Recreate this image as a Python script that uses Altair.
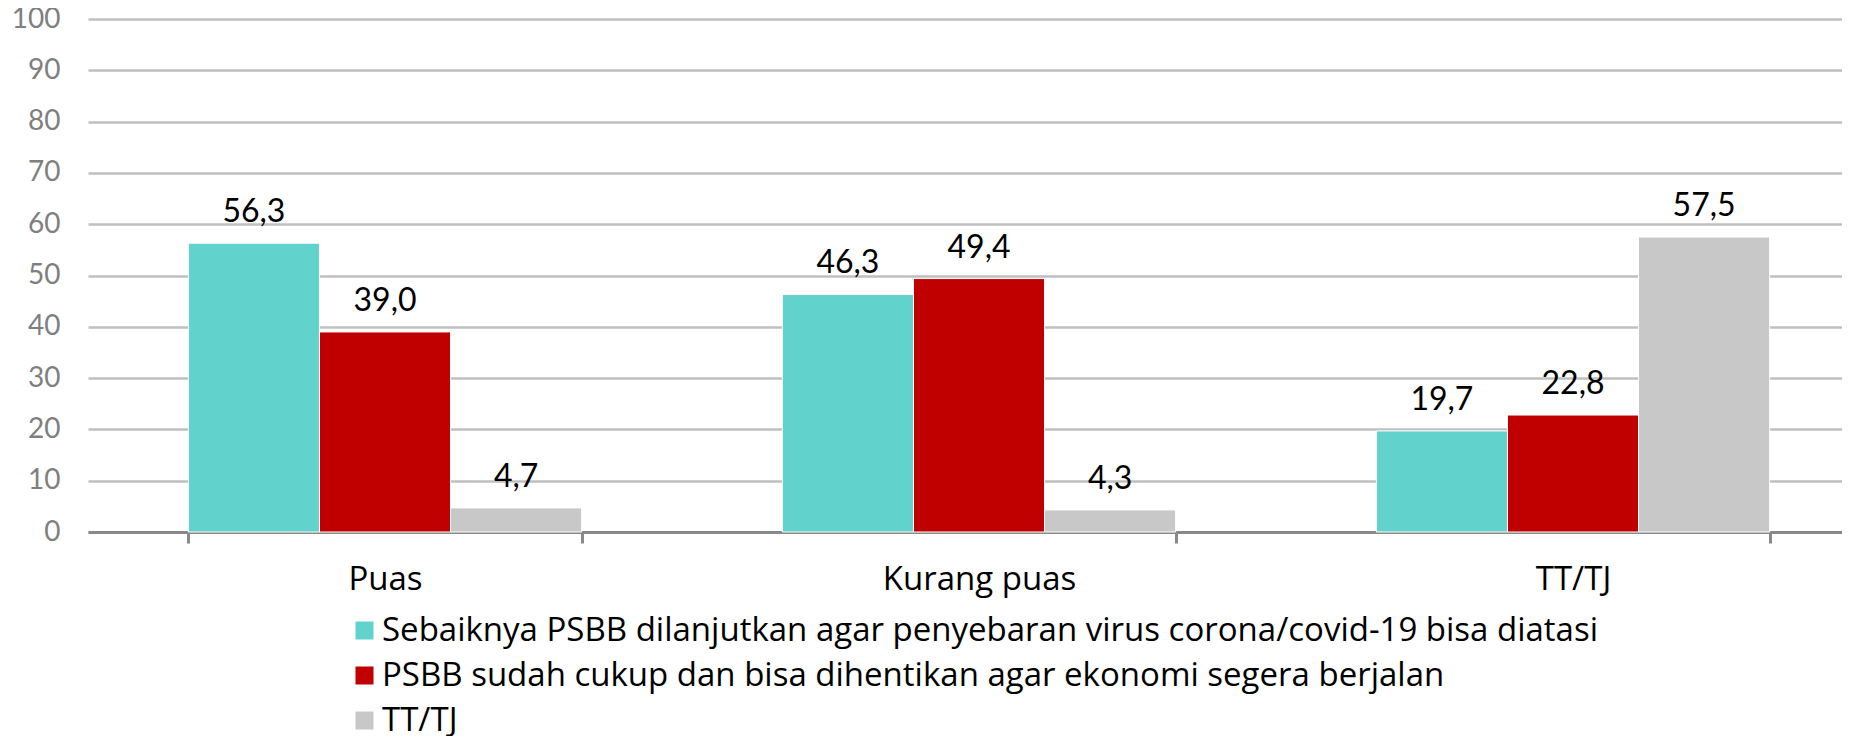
import altair as alt
import pandas as pd

categories = ["Puas", "Kurang puas", "TT/TJ"]
series = [
    "Sebaiknya PSBB dilanjutkan agar penyebaran virus corona/covid-19 bisa diatasi",
    "PSBB sudah cukup dan bisa dihentikan agar ekonomi segera berjalan",
    "TT/TJ",
]
values_s1 = [56.3, 46.3, 19.7]
values_s2 = [39.0, 49.4, 22.8]
values_s3 = [4.7, 4.3, 57.5]
colors = ["#62D2CD", "#C00000", "#C8C8C8"]
y_ticks = [0, 10, 20, 30, 40, 50, 60, 70, 80, 90, 100]

rows = []
for s, vals in zip(series, [values_s1, values_s2, values_s3]):
    for c, v in zip(categories, vals):
        rows.append({"kategori": c, "seri": s, "nilai": v,
                     "label": f"{v:.1f}".replace(".", ",")})
df = pd.DataFrame(rows)

FONT = "Lato"
FONT2 = "Open Sans"

x = alt.X("kategori:N", sort=categories,
          scale=alt.Scale(range=[0, 1782], paddingInner=0.338, paddingOuter=0.169),
          axis=alt.Axis(title=None, labelAngle=0, tickBand="extent", labelLimit=0,
                        labelFontSize=33, labelFont=FONT2, labelColor="#000000",
                        labelPadding=20, tickSize=11, tickWidth=3, tickColor="#898989",
                        domainColor="#898989", domainWidth=3, grid=False))
xo = alt.XOffset("seri:N", sort=series, scale=alt.Scale(paddingInner=0, paddingOuter=0))
y = alt.Y("nilai:Q", scale=alt.Scale(domain=[0, 100], nice=False),
          axis=alt.Axis(title=None, values=y_ticks, ticks=False, domain=False,
                        labelFontSize=28, labelFont=FONT, labelColor="#7F7F7F",
                        labelPadding=28, grid=True, gridColor="#BFBFBF", gridWidth=2.5))
color = alt.Color("seri:N", sort=series,
                  scale=alt.Scale(domain=series, range=colors),
                  legend=alt.Legend(title=None, orient="none", legendX=260, legendY=595,
                                    symbolType="square", symbolSize=324, symbolStrokeWidth=0,
                                    labelFontSize=33, labelFont=FONT2, labelColor="#000000",
                                    labelLimit=0, labelOffset=1, rowPadding=11))

bars = alt.Chart(df).mark_bar(stroke="white", strokeWidth=1).encode(
    x=x, xOffset=xo, y=y, color=color)
labels = alt.Chart(df).mark_text(fontSize=32, font=FONT, color="#000000",
                                 baseline="alphabetic", dy=-21).encode(
    x=x, xOffset=xo, y=y, text="label:N")

chart = (bars + labels).properties(
    width=1754, height=513,
    autosize=alt.AutoSizeParams(type="none"),
    padding={"left": 80, "top": 11, "right": 0, "bottom": 204},
).configure_view(stroke=None)

chart.save("out.html", embed_options={"renderer": "svg", "actions": False})
